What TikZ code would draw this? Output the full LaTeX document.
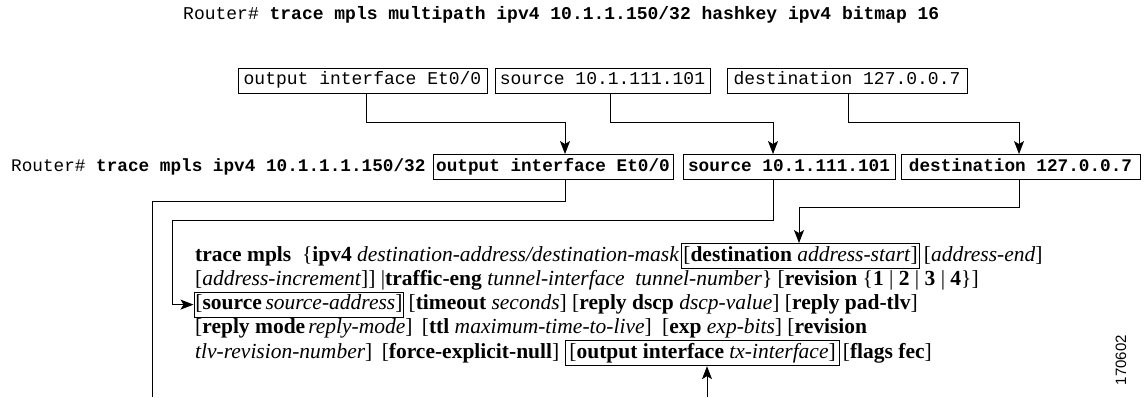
\documentclass[tikz,border=0pt]{standalone}
\usepackage{fontspec}
\setmainfont{Liberation Serif}
\newfontfamily\monof{Liberation Mono}
\newfontfamily\sansf{Liberation Sans}
\usetikzlibrary{arrows.meta}

\begin{document}
\begin{tikzpicture}[x=1pt,y=-1pt,
  mono/.style={font=\monof\fontsize{17.7}{20}\selectfont, inner sep=0pt, text height=12pt, text depth=3.5pt},
  monot/.style={mono, font=\monof\fontsize{18}{20}\selectfont},
  cbox/.style={draw, line width=0.9pt, minimum height=25pt},
  syn/.style={font=\fontsize{21.5}{24}\selectfont, inner sep=0pt, anchor=base west},
  sbox/.style={syn, draw, line width=0.9pt, inner xsep=1.5pt, inner ysep=3pt, text height=14.5pt, text depth=4.5pt},
  conn/.style={line width=1pt},
  arr/.style={conn, -{Stealth[length=13pt,width=10pt,inset=3pt]}},
]
\useasboundingbox (0,0) rectangle (1145,397);

% title
\node[monot, anchor=west] (title) at (183,15) {Router\# \textbf{trace mpls multipath ipv4 10.1.1.150/32 hashkey ipv4 bitmap 16}};

% top boxes
\node[monot, cbox, minimum width=249pt] (tb1) at (362.5,80.5) {output interface Et0/0};
\node[monot, cbox, minimum width=215pt] (tb2) at (602.5,80.5) {source 10.1.111.101};
\node[monot, cbox, minimum width=240pt] (tb3) at (847,80.5) {destination 127.0.0.7};

% router line
\node[mono, anchor=west] (rl) at (11,167) {Router\# \textbf{trace mpls ipv4 10.1.1.1.150/32}};
\node[mono, cbox, minimum width=240pt] (rb1) at (553,167) {\textbf{output interface Et0/0}};
\node[mono, cbox, minimum width=212pt] (rb2) at (789,167) {\textbf{source 10.1.111.101}};
\node[mono, cbox, minimum width=239pt] (rb3) at (1020.5,167) {\textbf{destination 127.0.0.7}};

% syntax block
\node[syn] (l1a) at (195,261) {\textbf{trace mpls}\ \ \{\textbf{ipv4} \textit{destination-address/destination-mask}};
\node[sbox] (dstbox) at ([xshift=2pt]l1a.base east) {[\textbf{destination} \textit{address-start}]};
\node[syn] (l1c) at ([xshift=4pt]dstbox.base east) {[\textit{address-end}]};

\node[syn] (l2) at (195,285.3) {[\textit{address-increment}]] |\textbf{traffic-eng} \textit{tunnel-interface}\ \ \textit{tunnel-number}\} [\textbf{revision} \{\textbf{1} | \textbf{2} | \textbf{3} | \textbf{4}\}]};

\node[sbox] (srcbox) at (193.5,309.6) {[\textbf{source}\,\textit{source-address}]};
\node[syn] (l3b) at ([xshift=4pt]srcbox.base east) {[\textbf{timeout} \textit{seconds}] [\textbf{reply dscp} \textit{dscp-value}] [\textbf{reply pad-tlv}]};

\node[syn] (l4) at (195,333.9) {[\textbf{reply mode}\hspace{3pt}\textit{reply-mode}]\hspace{4pt} [\textbf{ttl} \textit{maximum-time-to-live}]\hspace{5pt} [\textbf{exp} \textit{exp-bits}] [\textbf{revision}};

\node[syn] (l5a) at (195,358.2) {\textit{tlv-revision-number}]\hspace{4pt} [\textbf{force-explicit-null}]};
\node[sbox, inner xsep=3.5pt] (outbox) at ([xshift=6pt]l5a.base east) {[\textbf{output interface} \textit{tx-interface}]};
\node[syn] (l5c) at ([xshift=3pt]outbox.base east) {[\textbf{flags fec}]};

% figure number
\node[font=\sansf\fontsize{15}{18}\selectfont, rotate=90, inner sep=0pt] (fig) at (1121,360) {170602};

% connectors top -> router line
\coordinate (t1a) at (366,122); \coordinate (t1b) at (565,122);
\coordinate (t2a) at (610,122); \coordinate (t2b) at (773,122);
\coordinate (t3a) at (848,122); \coordinate (t3b) at (1019,122);
\draw[arr] (tb1.south -| t1a) -- (t1a) -- (t1b) -- (t1b |- rb1.north);
\draw[arr] (tb2.south -| t2a) -- (t2a) -- (t2b) -- (t2b |- rb2.north);
\draw[arr] (tb3.south -| t3a) -- (t3a) -- (t3b) -- (t3b |- rb3.north);

% connectors router line -> syntax
\coordinate (b1a) at (565,201); \coordinate (b1b) at (152,201); \coordinate (b1c) at (152,397);
\draw[conn] (rb1.south -| b1a) -- (b1a) -- (b1b) -- (b1c);
\coordinate (b2a) at (773,220); \coordinate (b2b) at (172,220);
\draw[arr] (rb2.south -| b2a) -- (b2a) -- (b2b) |- (srcbox.west);
\coordinate (b3a) at (1019,207); \coordinate (b3b) at (799,207);
\draw[arr] (rb3.south -| b3a) -- (b3a) -- (b3b) -- (b3b |- dstbox.north);
\coordinate (b4) at (707,397);
\draw[arr] (b4) -- (b4 |- outbox.south);
\end{tikzpicture}
\end{document}
